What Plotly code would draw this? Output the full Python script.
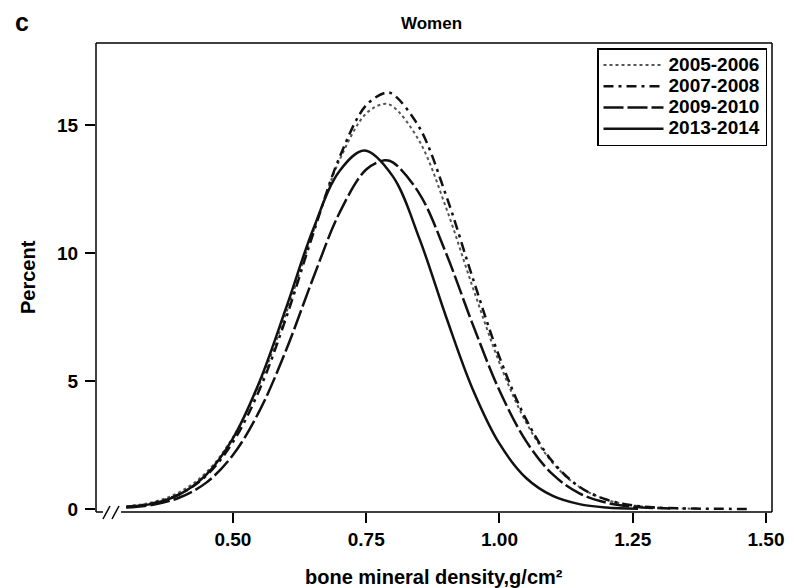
import plotly.graph_objects as go

# ---- data ----
x_2005 = [0.30, 0.35, 0.40, 0.45, 0.50, 0.55, 0.60, 0.65, 0.70, 0.75, 0.783, 0.80, 0.85, 0.90, 0.95, 1.00, 1.05, 1.10, 1.15, 1.20, 1.25, 1.30, 1.37]
y_2005 = [0.10, 0.27, 0.66, 1.43, 2.80, 4.89, 7.66, 10.79, 13.63, 15.45, 15.82, 15.72, 14.36, 11.76, 8.65, 5.71, 3.38, 1.80, 0.86, 0.37, 0.14, 0.05, 0.01]

x_2007 = [0.30, 0.35, 0.40, 0.45, 0.50, 0.55, 0.60, 0.65, 0.70, 0.75, 0.787, 0.80, 0.85, 0.90, 0.95, 1.00, 1.05, 1.10, 1.15, 1.20, 1.25, 1.30, 1.35, 1.40, 1.47]
y_2007 = [0.08, 0.23, 0.58, 1.30, 2.61, 4.67, 7.48, 10.72, 13.74, 15.77, 16.26, 16.20, 14.89, 12.24, 9.01, 5.93, 3.50, 1.84, 0.87, 0.37, 0.14, 0.05, 0.02, 0.01, 0.0]

x_2009 = [0.30, 0.35, 0.40, 0.45, 0.50, 0.55, 0.60, 0.65, 0.70, 0.75, 0.785, 0.80, 0.85, 0.90, 0.95, 1.00, 1.05, 1.10, 1.15, 1.20, 1.25, 1.32]
y_2009 = [0.06, 0.17, 0.45, 1.03, 2.11, 3.84, 6.22, 8.99, 11.57, 13.26, 13.62, 13.54, 12.31, 9.98, 7.20, 4.63, 2.65, 1.35, 0.61, 0.25, 0.09, 0.02]

x_2013 = [0.30, 0.35, 0.40, 0.45, 0.50, 0.55, 0.60, 0.65, 0.70, 0.747, 0.80, 0.85, 0.90, 0.95, 1.00, 1.05, 1.10, 1.15, 1.20, 1.26]
y_2013 = [0.08, 0.21, 0.57, 1.34, 2.76, 4.98, 7.87, 10.90, 13.20, 14.00, 12.99, 10.55, 7.50, 4.67, 2.55, 1.21, 0.51, 0.19, 0.06, 0.01]

series_names = ["2005-2006", "2007-2008", "2009-2010", "2013-2014"]
x_ticks = [0.50, 0.75, 1.00, 1.25, 1.50]
y_ticks = [0, 5, 10, 15]

FONT = "Liberation Sans, Arial, sans-serif"

fig = go.Figure()
styles = [
    dict(color="#555555", width=2, dash="dot"),
    dict(color="#111111", width=2.5, dash="10px,5px,3px,5px"),
    dict(color="#111111", width=2.5, dash="20px,4px"),
    dict(color="#111111", width=2.5, dash="solid"),
]
for xs, ys, name, st in zip([x_2005, x_2007, x_2009, x_2013],
                            [y_2005, y_2007, y_2009, y_2013],
                            series_names, styles):
    fig.add_trace(go.Scatter(
        x=xs, y=ys, mode="lines",
        name="<span style='font-size:19px'>" + name + "</span>",
        line=dict(shape="spline", smoothing=1.0, **st)))

# the page body has an 8px margin, so the figure is offset by 8px
OFF = 8
W, H = 794 - OFF, 588 - OFF
L, T = 96 - OFF, 43 - OFF
R = W - (772 - OFF)
B = H - (512 - OFF)
pw, ph = W - L - R, H - T - B

def px(xp):  # target page pixel -> paper x
    return (xp - OFF - L) / pw

def py(yp):  # target page pixel -> paper y
    return (H - B - (yp - OFF)) / ph

fig.update_layout(
    width=W, height=H,
    margin=dict(l=L, r=R, t=T, b=B, autoexpand=False),
    paper_bgcolor="white", plot_bgcolor="white",
    font=dict(family=FONT, color="black"),
    showlegend=True,
    legend=dict(
        x=px(767), y=py(48), xanchor="right", yanchor="top",
        bordercolor="black", borderwidth=1.5, bgcolor="white",
        font=dict(family=FONT, size=14, weight="bold", color="black"),
        itemwidth=60, tracegroupgap=0,
    ),
    xaxis=dict(
        range=[0.2431, 1.5113], tickvals=x_ticks, tickformat=".2f",
        ticks="outside", ticklen=10, tickwidth=1.5, tickcolor="black",
        showline=False, showgrid=False, zeroline=False,
        tickfont=dict(family=FONT, size=19, weight="bold", color="black"),
    ),
    yaxis=dict(
        range=[-0.117, 18.2], tickvals=y_ticks,
        ticks="outside", ticklen=10, tickwidth=1.5, tickcolor="black",
        showline=False, showgrid=False, zeroline=False, ticklabelstandoff=3,
        tickfont=dict(family=FONT, size=19, weight="bold", color="black"),
    ),
)

line = dict(color="black", width=1.5)
shapes = [
    dict(type="line", xref="paper", yref="paper", x0=0, x1=1, y0=1, y1=1, line=line),
    dict(type="line", xref="paper", yref="paper", x0=1, x1=1, y0=0, y1=1, line=line),
    dict(type="line", xref="paper", yref="paper", x0=0, x1=0, y0=0, y1=1, line=line),
    dict(type="line", xref="paper", yref="paper", x0=0, x1=px(103), y0=0, y1=0, line=line),
    dict(type="line", xref="paper", yref="paper", x0=px(121), x1=1, y0=0, y1=0, line=line),
    dict(type="line", xref="paper", yref="paper", x0=px(103), x1=px(110), y0=py(519), y1=py(506), line=line),
    dict(type="line", xref="paper", yref="paper", x0=px(112), x1=px(119), y0=py(519), y1=py(506), line=line),
]
fig.update_layout(shapes=shapes)

ann = dict(xref="paper", yref="paper", showarrow=False, xanchor="center", yanchor="middle")
fig.add_annotation(text="c", x=px(22), y=py(22),
                   font=dict(family=FONT, size=25, weight="bold"), **ann)
fig.add_annotation(text="Women", x=px(431), y=py(23),
                   font=dict(family=FONT, size=17, weight="bold"), **ann)
fig.add_annotation(text="Percent", x=px(28), y=py(277), textangle=-90,
                   font=dict(family=FONT, size=20, weight="bold"), **ann)
fig.add_annotation(text="bone mineral density,g/cm²", x=px(434), y=py(577),
                   font=dict(family=FONT, size=20, weight="bold"), **ann)

fig.write_html("out.html")
